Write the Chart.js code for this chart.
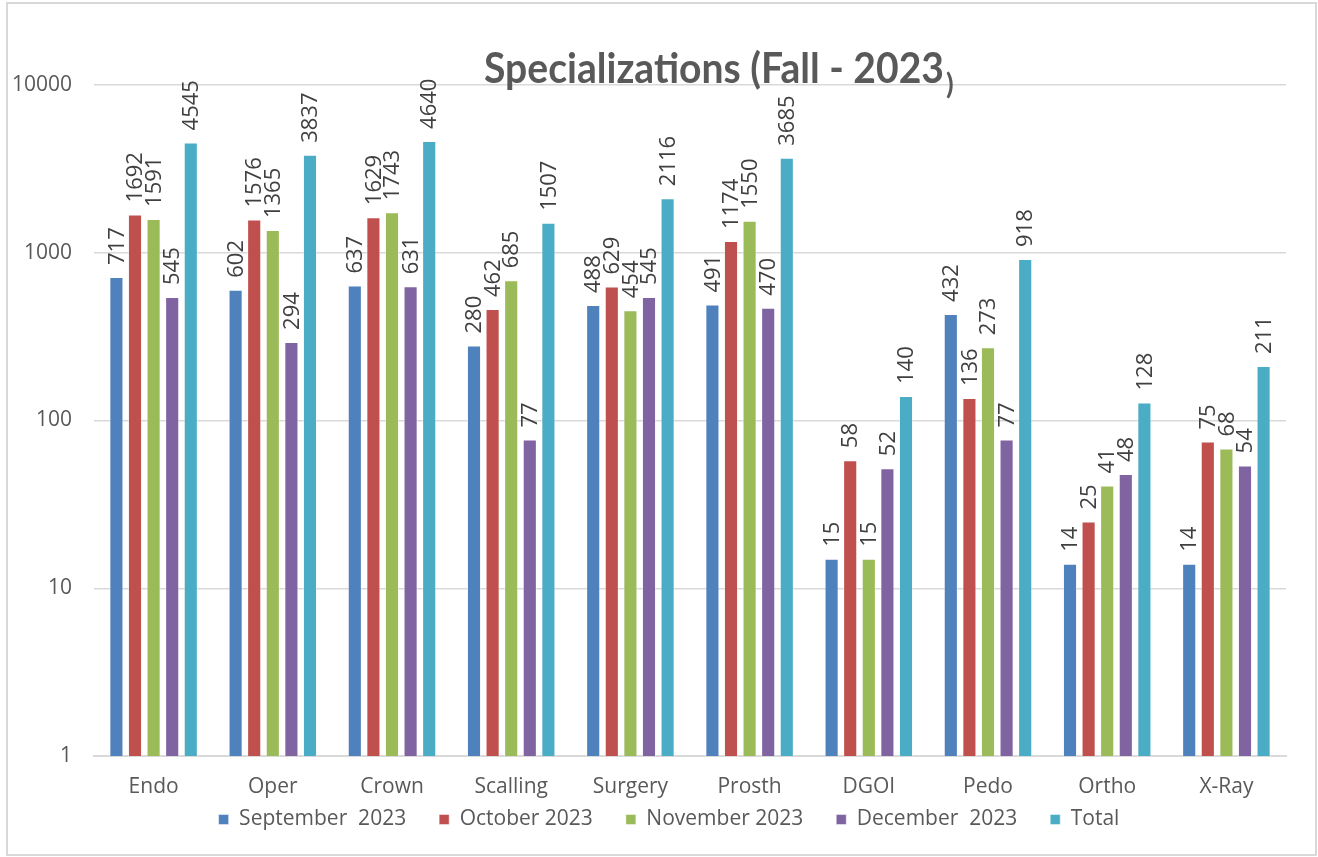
<!DOCTYPE html>
<html>
<head>
<meta charset="utf-8">
<script src="https://cdn.jsdelivr.net/npm/chart.js@4/dist/chart.umd.min.js"></script>
<style>
html,body{margin:0;padding:0;background:#fff}
#wrap{width:1318px;height:857px}
</style>
</head>
<body>
<div id="wrap"><canvas id="specChart" width="1318" height="857"></canvas></div>
<script>
/* =====================================================
DATA
===================================================== */

const categories=["Endo","Oper","Crown","Scalling","Surgery","Prosth","DGOI","Pedo","Ortho","X-Ray"]

const september=[717,602,637,280,488,491,15,432,14,14]
const october=[1692,1576,1629,462,629,1174,58,136,25,75]
const november=[1591,1365,1743,685,454,1550,15,273,41,68]
const december=[545,294,631,77,545,470,52,77,48,54]
const total=[4545,3837,4640,1507,2116,3685,140,918,128,211]

const seriesNames=["September  2023","October 2023","November 2023","December  2023","Total"]
const yTicks=[1,10,100,1000,10000]

const colors=["#4f81bd","#c0504d","#9bbb59","#8064a2","#4bacc6"]

const FONT="'Open Sans','Noto Sans',sans-serif"


/* =====================================================
PLUGINS
===================================================== */

const frame={
id:"frame",
beforeDraw(chart){
const c=chart.ctx
c.save()
c.fillStyle="#fff"
c.fillRect(0,0,chart.width,chart.height)
c.strokeStyle="#d9d9d9"
c.lineWidth=2
c.strokeRect(7,3,1309,852)
c.restore()
}
}

/* pull the legend up closer to the category labels */
const legendShift={
id:"legendShift",
afterLayout(chart){
const lg=chart.legend
if(!lg) return
const dy=32,dx=22
lg.top-=dy
lg.bottom-=dy
lg.left+=dx
lg.right+=dx
if(lg.legendHitBoxes) lg.legendHitBoxes.forEach(h=>{h.top-=dy;h.left+=dx})
}
}

const valueLabels={
id:"valueLabels",
afterDatasetsDraw(chart){
const c=chart.ctx
c.save()
c.fillStyle="#404040"
c.font="22px "+FONT
c.textAlign="left"
c.textBaseline="middle"
chart.data.datasets.forEach((ds,i)=>{
chart.getDatasetMeta(i).data.forEach((bar,j)=>{
c.save()
c.translate(bar.x+1,bar.y-12)
c.rotate(-Math.PI/2)
c.fillText(String(ds.data[j]),0,0)
c.restore()
})
})
c.restore()
}
}

const bigTitle={
id:"bigTitle",
afterDraw(chart){
const c=chart.ctx
const main="Specializations (Fall - 2023"
c.save()
c.fillStyle="#595959"
c.font="bold 42px Lato,'Open Sans',sans-serif"
const w=c.measureText(main).width
const target=460
c.translate(484,83)
c.scale(target/w,1)
c.textBaseline="alphabetic"
c.fillText(main,0,0)
c.restore()
c.save()
c.fillStyle="#595959"
c.font="bold 28px Lato,'Open Sans',sans-serif"
c.fillText(")",946,85)
c.restore()
}
}


/* =====================================================
CHART
===================================================== */

const datasets=[september,october,november,december,total].map((d,i)=>({
label:seriesNames[i],
data:d,
backgroundColor:colors[i],
borderColor:"rgba(255,255,255,0.45)",
borderWidth:1,
categoryPercentage:0.78,
barPercentage:0.76
}))

new Chart(document.getElementById("specChart"),{
type:"bar",
data:{labels:categories,datasets:datasets},
plugins:[frame,legendShift,valueLabels,bigTitle],
options:{
responsive:false,
animation:false,
layout:{padding:{left:8,right:32,top:85,bottom:-15}},
plugins:{
title:{display:false},
tooltip:{enabled:false},
legend:{
position:"bottom",
labels:{
color:"#595959",
font:{family:FONT,size:21},
boxWidth:10,
boxHeight:10,
padding:33
}
}
},
scales:{
x:{
grid:{display:false},
border:{display:true,color:"#d9d9d9",width:2},
ticks:{color:"#595959",font:{family:FONT,size:21},padding:10,maxRotation:0},
afterFit(s){s.height=52}
},
y:{
type:"logarithmic",
min:1,
max:10000,
afterBuildTicks(s){s.ticks=yTicks.map(v=>({value:v}))},
grid:{color:"#d9d9d9",lineWidth:1.5,drawTicks:false},
border:{display:false},
ticks:{
color:"#595959",
font:{family:FONT,size:21},
padding:22,
callback:v=>String(v)
},
afterFit(s){s.width=86}
}
}
}
})
</script>
</body>
</html>
